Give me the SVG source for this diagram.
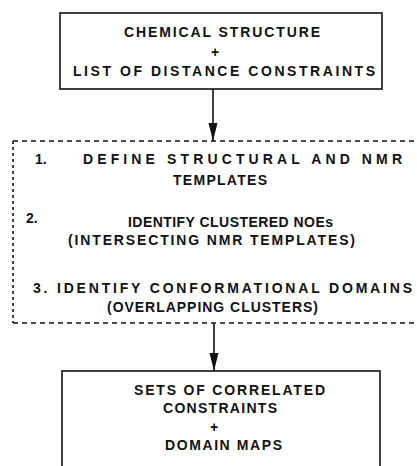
<svg xmlns="http://www.w3.org/2000/svg" width="417" height="466" viewBox="0 0 417 466">
<defs>
<style>
text{font-family:"Liberation Sans",Arial,sans-serif;font-weight:bold;font-size:14px;fill:#111;}
.box{fill:none;stroke:#111;stroke-width:1.6;}
.dash{fill:none;stroke:#111;stroke-width:1.6;stroke-dasharray:5 4;}
.vdash{fill:none;stroke:#111;stroke-width:1.6;stroke-dasharray:3 3;}
.conn{stroke:#111;stroke-width:1.6;fill:none;}
</style>
<marker id="ah" viewBox="0 0 10 20" refX="10" refY="10" markerWidth="10" markerHeight="20" markerUnits="userSpaceOnUse" orient="auto">
<path d="M0,4 L10,10 L0,16 Z" fill="#111"/>
</marker>
<marker id="ah2" viewBox="0 0 18 10" refX="18" refY="5" markerWidth="18" markerHeight="10" markerUnits="userSpaceOnUse" orient="auto">
<path d="M0,0.5 L18,5 L0,9.5 Z" fill="#111"/>
</marker>
</defs>
<g id="connectors">
<line class="conn" x1="213" y1="89" x2="213" y2="141" marker-end="url(#ah2)"/>
<line class="conn" x1="214" y1="323" x2="214" y2="371" marker-end="url(#ah2)"/>
</g>
<g id="node-input">
<rect class="box" x="60" y="13" width="322" height="76"/>
<text x="124" y="37" textLength="196" lengthAdjust="spacing">CHEMICAL STRUCTURE</text>
<text x="215" y="57" text-anchor="middle">+</text>
<text x="73" y="76" textLength="302" lengthAdjust="spacing">LIST OF DISTANCE CONSTRAINTS</text>
</g>
<g id="node-process">
<path class="dash" d="M13,141 H417"/>
<path class="dash" d="M13,323 H417"/>
<path class="vdash" d="M13,141 V323"/>
<text x="35" y="164">1.</text>
<text x="83" y="164" textLength="319" lengthAdjust="spacing">DEFINE  STRUCTURAL AND NMR</text>
<text x="173" y="185" textLength="94" lengthAdjust="spacing">TEMPLATES</text>
<text x="26" y="223">2.</text>
<text x="128" y="227" textLength="205" lengthAdjust="spacing">IDENTIFY CLUSTERED NOEs</text>
<text x="68" y="245" textLength="287" lengthAdjust="spacing">(INTERSECTING NMR TEMPLATES)</text>
<text x="33" y="293" textLength="379" lengthAdjust="spacing">3. IDENTIFY CONFORMATIONAL DOMAINS</text>
<text x="107" y="312" textLength="211" lengthAdjust="spacing">(OVERLAPPING CLUSTERS)</text>
</g>
<g id="node-output">
<rect class="box" x="62" y="371" width="318" height="100"/>
<text x="134" y="395" textLength="191" lengthAdjust="spacing">SETS OF CORRELATED</text>
<text x="163" y="413" textLength="114" lengthAdjust="spacing">CONSTRAINTS</text>
<text x="214" y="432" text-anchor="middle">+</text>
<text x="165" y="450" textLength="117" lengthAdjust="spacing">DOMAIN MAPS</text>
</g>
</svg>
